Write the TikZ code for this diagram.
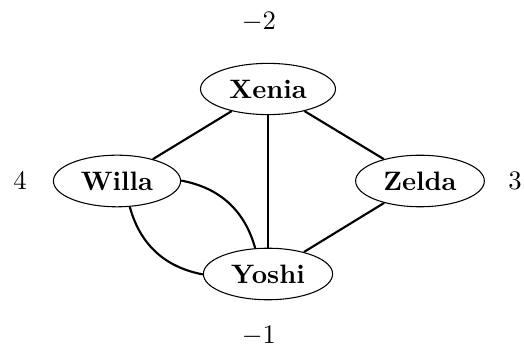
\documentclass[tikz,border=0pt]{standalone}
\usetikzlibrary{shapes.geometric}
\begin{document}
\begin{tikzpicture}[x=0.375pt,y=-0.375pt,
  person/.style={draw, ellipse, font=\bfseries, inner sep=0.3333em},
  tie/.style={line width=0.8pt},
  score/.style={inner sep=0pt}]
\useasboundingbox (0,0) rectangle (524,348);
\node[person] (x) at (268,89) {Xenia};
\node[person] (w) at (117,181) {Willa};
\node[person] (z) at (420,181) {Zelda};
\node[person] (y) at (268,274) {Yoshi};
\node[score] (sx) at (259,22) {$-2$};
\node[score] (sw) at (20,181) {$4$};
\node[score] (sz) at (515,181) {$3$};
\node[score] (sy) at (259,336) {$-1$};
\draw[tie] (x) -- (w);
\draw[tie] (x) -- (z);
\draw[tie] (x) -- (y);
\draw[tie] (z) -- (y);
\draw[tie] (w) to[bend left=32] (y);
\draw[tie] (w) to[bend right=32] (y);
\end{tikzpicture}
\end{document}
